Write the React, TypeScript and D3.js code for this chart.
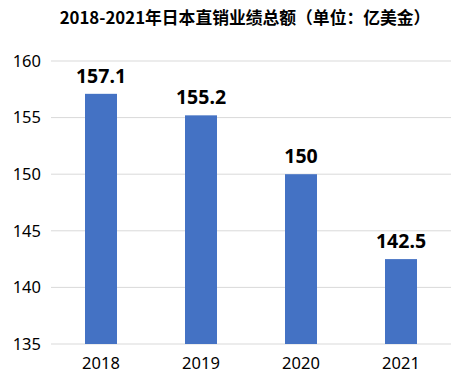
import React from "react";
import * as d3 from "d3";

const years = ["2018", "2019", "2020", "2021"];
const values = [157.1, 155.2, 150, 142.5];
const labels = ["157.1", "155.2", "150", "142.5"];
const yTicks = [135, 140, 145, 150, 155, 160];
const title = "2018-2021年日本直销业绩总额（单位：亿美金）";

export default function App() {
  const W = 469, H = 379;
  const left = 51, right = 451, top = 61, bottom = 344;
  const x = d3.scaleBand<string>().domain(years).range([left, right]).paddingInner(0.68).paddingOuter(0.34);
  const y = d3.scaleLinear().domain([135, 160]).range([bottom, top]);
  return (
    <svg width={W} height={H} style={{ position: "absolute", left: 0, top: 0, background: "#fff" }}>
      <rect x={0} y={0} width={W} height={H} fill="#fff" />
      <text x={245} y={24} textAnchor="middle" fontFamily="'Noto Sans CJK SC'" fontWeight="bold" fontSize={16.8} fill="#000">{title}</text>
      {yTicks.map((t) => (
        <g key={t}>
          <line x1={left} x2={right} y1={y(t)} y2={y(t)} stroke="#d9d9d9" strokeWidth={1} />
          <text x={41} y={y(t)} dy="0.35em" textAnchor="end" fontFamily="'Noto Sans', sans-serif" fontSize={16.5} fill="#000">{t}</text>
        </g>
      ))}
      {years.map((yr, i) => (
        <g key={yr}>
          <rect x={x(yr)} y={y(values[i])} width={x.bandwidth()} height={bottom - y(values[i])} fill="#4472C4" />
          <text x={(x(yr) as number) + x.bandwidth() / 2} y={y(values[i]) - 11} textAnchor="middle" fontFamily="'Noto Sans', sans-serif" fontWeight="bold" fontSize={19.5} fill="#000">{labels[i]}</text>
          <text x={(x(yr) as number) + x.bandwidth() / 2} y={369} textAnchor="middle" fontFamily="'Noto Sans', sans-serif" fontSize={16.5} fill="#000">{yr}</text>
        </g>
      ))}
    </svg>
  );
}
